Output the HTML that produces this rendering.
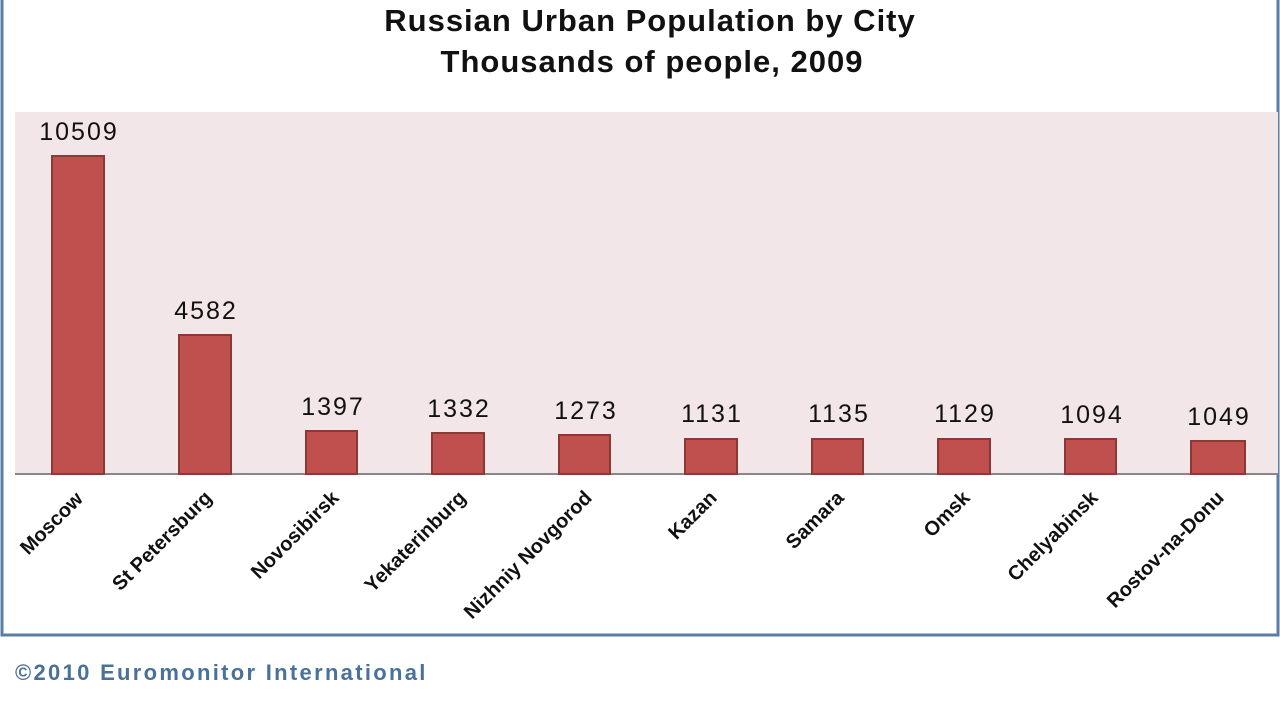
<!DOCTYPE html>
<html><head><meta charset="utf-8"><style>
html,body{margin:0;padding:0;background:#fff;}
svg{display:block;}
</style></head><body>
<svg width="1280" height="702" viewBox="0 0 1280 702" xmlns="http://www.w3.org/2000/svg" font-family="Liberation Sans, DejaVu Sans, sans-serif">
<rect x="0" y="0" width="1280" height="702" fill="#fff"/>
<path d="M2,0 V635 H1278 V0" fill="none" stroke="#5a7ea6" stroke-width="3"/>
<rect x="15" y="112" width="1263" height="362" fill="#f2e6e8"/>
<line x1="15" y1="474" x2="1278" y2="474" stroke="#888" stroke-width="2"/>
<g font-weight="bold" font-size="31" text-anchor="middle" fill="#111" letter-spacing="1">
<text x="650" y="31">Russian Urban Population by City</text>
<text x="652" y="72">Thousands of people, 2009</text>
</g>
<g fill="#c0504d" stroke="#8c3835" stroke-width="2">
<rect x="52" y="156" width="52" height="318"/>
<rect x="179" y="335" width="52" height="139"/>
<rect x="306" y="431" width="51" height="43"/>
<rect x="432" y="433" width="52" height="41"/>
<rect x="559" y="435" width="51" height="39"/>
<rect x="685" y="439" width="52" height="35"/>
<rect x="812" y="439" width="51" height="35"/>
<rect x="938" y="439" width="52" height="35"/>
<rect x="1065" y="439" width="51" height="35"/>
<rect x="1191" y="441" width="54" height="33"/>
</g>
<g font-size="25" text-anchor="middle" fill="#111" letter-spacing="2">
<text x="79" y="140">10509</text>
<text x="206" y="319">4582</text>
<text x="333" y="415">1397</text>
<text x="459" y="417">1332</text>
<text x="586" y="419">1273</text>
<text x="712" y="422">1131</text>
<text x="839" y="422">1135</text>
<text x="965" y="422">1129</text>
<text x="1092" y="423">1094</text>
<text x="1219" y="425">1049</text>
</g>
<g font-size="20" font-weight="bold" text-anchor="end" fill="#111">
<text transform="translate(84,500) rotate(-45)">Moscow</text>
<text transform="translate(213,499) rotate(-45)">St Petersburg</text>
<text transform="translate(340,499) rotate(-45)">Novosibirsk</text>
<text transform="translate(467,499) rotate(-45)">Yekaterinburg</text>
<text transform="translate(593,499) rotate(-45)">Nizhniy Novgorod</text>
<text transform="translate(718,499) rotate(-45)">Kazan</text>
<text transform="translate(845,499) rotate(-45)">Samara</text>
<text transform="translate(971,499) rotate(-45)">Omsk</text>
<text transform="translate(1099,499) rotate(-45)">Chelyabinsk</text>
<text transform="translate(1225,499) rotate(-45)">Rostov-na-Donu</text>
</g>
<text x="15" y="680" font-size="22" font-weight="bold" fill="#4a7198" letter-spacing="2.3">©2010 Euromonitor International</text>
</svg>
</body></html>
